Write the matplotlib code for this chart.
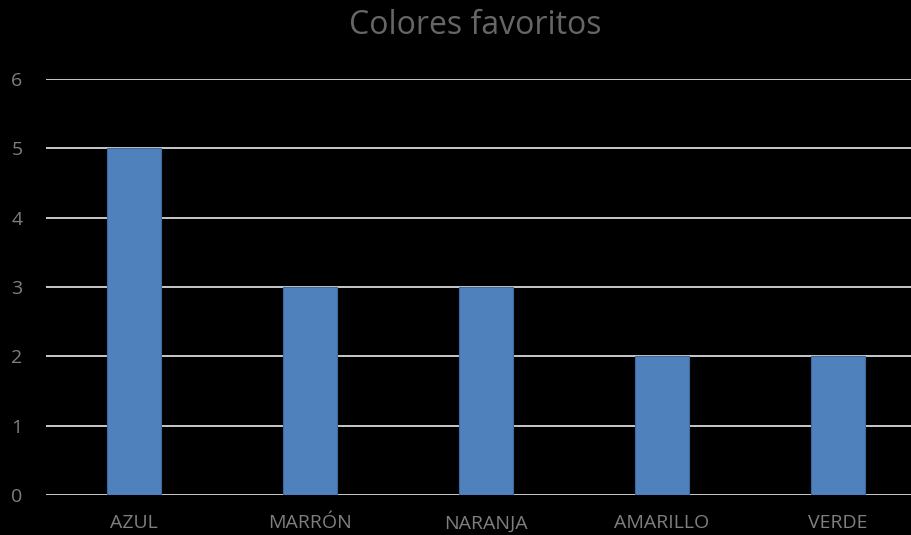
import matplotlib.pyplot as plt

categorias = ['AZUL', 'MARRÓN', 'NARANJA', 'AMARILLO', 'VERDE']
valores = [5, 3, 3, 2, 2]
y_ticks = [0, 1, 2, 3, 4, 5, 6]

plt.rcParams['font.family'] = ['Open Sans', 'DejaVu Sans']

fig = plt.figure(figsize=(9.12, 5.35), dpi=100, facecolor='black')
ax = fig.add_axes([46 / 912, 1 - 495 / 535, 880 / 912, 416 / 535])
ax.set_facecolor('black')

x = range(len(categorias))
ax.bar(x, valores, width=0.31, color='#4F81BD', edgecolor='#3F6A9C', linewidth=0.8, zorder=3)

ax.set_xlim(-0.5, len(categorias) - 0.5)
ax.set_ylim(0, 6)
ax.set_yticks(y_ticks)
ax.yaxis.grid(True, color='#D9D9D9', linewidth=1.3, zorder=0)
ax.set_xticks(list(x))
ax.set_xticklabels(categorias)

for s in ax.spines.values():
    s.set_visible(False)
ax.tick_params(axis='both', length=0, colors='#7F7F7F', labelsize=14)
ax.tick_params(axis='x', pad=14)
ax.tick_params(axis='y', pad=25)
for lbl in ax.get_yticklabels():
    lbl.set_horizontalalignment('left')

fig.text(475 / 912, 1 - 26 / 535, 'Colores favoritos', color='#666666',
         fontsize=23, ha='center', va='center')

fig.savefig('out.png', dpi=100, facecolor='black')
